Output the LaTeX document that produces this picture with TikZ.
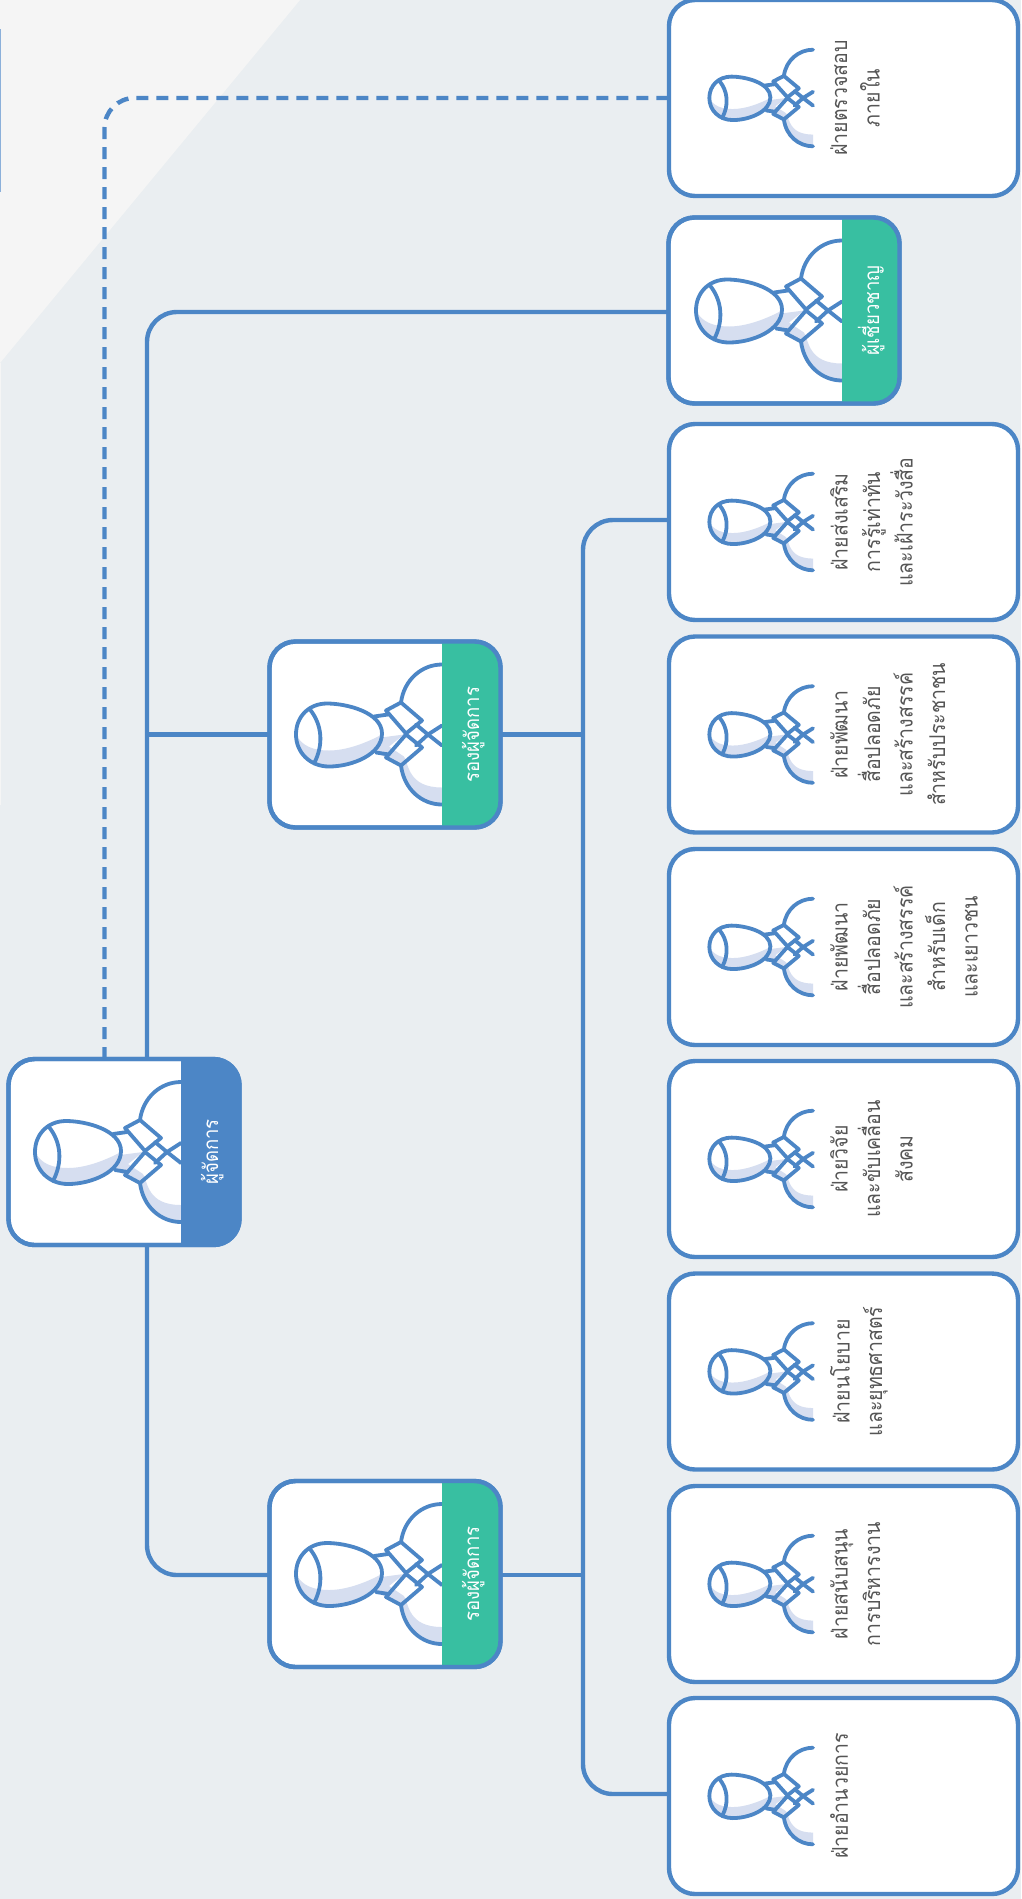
\documentclass[tikz,border=0pt]{standalone}
\usepackage{fontspec}
\newfontfamily\thaifont[Script=Thai, FakeStretch=0.9]{Loma}
\definecolor{pagebg}{HTML}{EAEEF1}
\definecolor{pagelight}{HTML}{F5F5F5}
\definecolor{lineblue}{HTML}{4C86C6}
\definecolor{bandgreen}{HTML}{38BFA1}
\definecolor{tintblue}{HTML}{D6DEF0}
\definecolor{deptgray}{HTML}{555555}
\tikzset{
	card/.style={draw=lineblue, line width=4.4pt, fill=white, rounded corners=26pt, inner sep=0pt, outer sep=0pt},
	smallcard/.style={card, minimum width=349pt, minimum height=196pt},
	bigcard/.style={card, minimum width=231pt, minimum height=186pt},
	border/.style={draw=lineblue, line width=4.4pt, rounded corners=26pt},
	link/.style={draw=lineblue, line width=4.4pt},
	dept/.style={font=\thaifont\fontsize{21.7}{32.5}\selectfont, text=deptgray, rotate=90, anchor=north, text width=170pt, align=center, inner sep=0pt},
	bandtext/.style={font=\thaifont\fontsize{20.6}{24}\selectfont, text=white, rotate=90, anchor=base, inner sep=0pt},
	pics/person/.style={code={
		\fill[tintblue] (-146,0) .. controls (-140,12) and (-128,16) .. (-113,16) .. controls (-95,16) and (-75,8) .. (-60,0) .. controls (-60,20) and (-90,32) .. (-113,32) .. controls (-132,32) and (-146,18) .. cycle;
		\fill[tintblue] (-61,3) -- (-38,0) -- (-53,12) -- (-38,22) .. controls (-33,30) and (-34,53) .. (0,53) -- (0,70) .. controls (-25,70) and (-41,52) .. (-41,31) -- (-56,23) -- (-66,18) -- cycle;
		\begin{scope}[draw=lineblue, line width=3.8pt, line cap=round, line join=round]
		\draw (-146,0) .. controls (-146,-18) and (-133,-31) .. (-115,-31) .. controls (-95,-31) and (-60,-22) .. (-60,-1) .. controls (-60,20) and (-90,32) .. (-113,32) .. controls (-132,32) and (-146,18) .. cycle;
		\draw (-132,-25) .. controls (-120,-10) and (-118,10) .. (-128,29);
		\draw (-68,-18) -- (-54,-20);
		\draw (-66,18) -- (-53,20);
		\draw (-56,-24) -- (-41,-32) -- (-20,-14) -- (-36,-1) -- cycle;
		\draw (-56,23) -- (-41,31) -- (-20,13) -- (-36,0) -- cycle;
		\draw (-26,-10) -- (-14,0) -- (-26,11);
		\draw (-14,0) -- (0,-9);
		\draw (-14,0) -- (0,11);
		\draw (-41,-32) .. controls (-38,-55) and (-20,-70) .. (0,-70);
		\draw (-41,31) .. controls (-38,55) and (-20,70) .. (0,70);
		\end{scope}
	}},
	smallicon/.style={xscale=.71, yscale=.69}
}
\begin{document}
\begin{tikzpicture}[x=1pt, y=-1pt]
	\useasboundingbox (0,0) rectangle (1021,1899);
	% page
	\fill[pagebg] (0,0) rectangle (1021,1899);
	\fill[pagelight] (0,0) -- (300,0) -- (0,363) -- cycle;
	\fill[pagelight] (0,363) rectangle (1,805);
	\fill[lineblue!65] (0,29) rectangle (1,192);

	% right column
	\node[smallcard] (audit) at (843.5,98) {};
	\node[bigcard] (expert) at (784,310.5) {};
	\node[smallcard] (media) at (843.5,522) {};
	\node[smallcard] (public) at (843.5,734.5) {};
	\node[smallcard] (youth) at (843.5,947) {};
	\node[smallcard] (research) at (843.5,1159) {};
	\node[smallcard] (policy) at (843.5,1371.5) {};
	\node[smallcard] (support) at (843.5,1584) {};
	\node[smallcard] (admin) at (843.5,1796) {};

	% middle and left
	\node[bigcard] (deputyA) at (385,734.5) {};
	\node[bigcard] (deputyB) at (385,1574) {};
	\node[bigcard] (manager) at (124,1152) {};

	% connectors
	\coordinate (spine) at (147,0);
	\coordinate (trunk) at (583,0);
	\coordinate (auditline) at (104.5,0);
	\draw[link, dash pattern=on 12pt off 8pt, rounded corners=30pt] (auditline |- manager.north) |- (audit.west);
	\draw[link, rounded corners=30pt] (spine |- manager.north) |- ([yshift=-1.5pt]expert.west);
	\draw[link, rounded corners=30pt] (spine |- manager.south) |- ([yshift=-1pt]deputyB.west);
	\draw[link] (spine |- deputyA.west) -- (deputyA.west);
	\draw[link, rounded corners=30pt] ([yshift=2pt]media.west) -| (trunk |- deputyA.east) |- ([yshift=2pt]admin.west);
	\draw[link] (deputyA.east) -- (trunk |- deputyA.east);
	\draw[link] ([yshift=-1pt]deputyB.east) -- ([yshift=-1pt]trunk |- deputyB.east);

	% people
	\pic[smallicon] (iconaudit) at (813,98) {person};
	\pic (iconexpert) at (842,310.5) {person};
	\pic[smallicon] (iconmedia) at (813,522) {person};
	\pic[smallicon] (iconpublic) at (813,734.5) {person};
	\pic[smallicon] (iconyouth) at (813,947) {person};
	\pic[smallicon] (iconresearch) at (813,1159) {person};
	\pic[smallicon] (iconpolicy) at (813,1371.5) {person};
	\pic[smallicon] (iconsupport) at (813,1584) {person};
	\pic[smallicon] (iconadmin) at (813,1796) {person};
	\pic (icondeputyA) at (442,734.5) {person};
	\pic (icondeputyB) at (442,1574) {person};
	\pic (iconmanager) at (181,1152) {person};

	% bands
	\fill[bandgreen] (842,0 |- expert.north) [rounded corners=26pt] -- (expert.north east) -- (expert.south east) [sharp corners] -- (842,0 |- expert.south) -- cycle;
	\fill[bandgreen] (442,0 |- deputyA.north) [rounded corners=26pt] -- (deputyA.north east) -- (deputyA.south east) [sharp corners] -- (442,0 |- deputyA.south) -- cycle;
	\fill[bandgreen] (442,0 |- deputyB.north) [rounded corners=26pt] -- (deputyB.north east) -- (deputyB.south east) [sharp corners] -- (442,0 |- deputyB.south) -- cycle;
	\fill[lineblue] (181,0 |- manager.north) [rounded corners=26pt] -- (manager.north east) -- (manager.south east) [sharp corners] -- (181,0 |- manager.south) -- cycle;
	\draw[border] (expert.north west) rectangle (expert.south east);
	\draw[border] (deputyA.north west) rectangle (deputyA.south east);
	\draw[border] (deputyB.north west) rectangle (deputyB.south east);
	\draw[border] (manager.north west) rectangle (manager.south east);

	% labels
	\node[bandtext] (expertlabel) at (879,310.5) {ผู้เชี่ยวชาญ};
	\node[bandtext] (deputyAlabel) at (479,734.5) {รองผู้จัดการ};
	\node[bandtext] (deputyBlabel) at (479,1574) {รองผู้จัดการ};
	\node[bandtext] (managerlabel) at (218,1152) {ผู้จัดการ};
	\node[dept] (auditlabel) at (830,98) {ฝ่ายตรวจสอบ\\ภายใน};
	\node[dept] (medialabel) at (830,522) {ฝ่ายส่งเสริม\\การรู้เท่าทัน\\และเฝ้าระวังสื่อ};
	\node[dept] (publiclabel) at (830,734.5) {ฝ่ายพัฒนา\\สื่อปลอดภัย\\และสร้างสรรค์\\สำหรับประชาชน};
	\node[dept] (youthlabel) at (830,947) {ฝ่ายพัฒนา\\สื่อปลอดภัย\\และสร้างสรรค์\\สำหรับเด็ก\\และเยาวชน};
	\node[dept] (researchlabel) at (830,1159) {ฝ่ายวิจัย\\และขับเคลื่อน\\สังคม};
	\node[dept] (policylabel) at (830,1371.5) {ฝ่ายนโยบาย\\และยุทธศาสตร์};
	\node[dept] (supportlabel) at (830,1584) {ฝ่ายสนับสนุน\\การบริหารงาน};
	\node[dept] (adminlabel) at (830,1796) {ฝ่ายอำนวยการ};
\end{tikzpicture}
\end{document}
